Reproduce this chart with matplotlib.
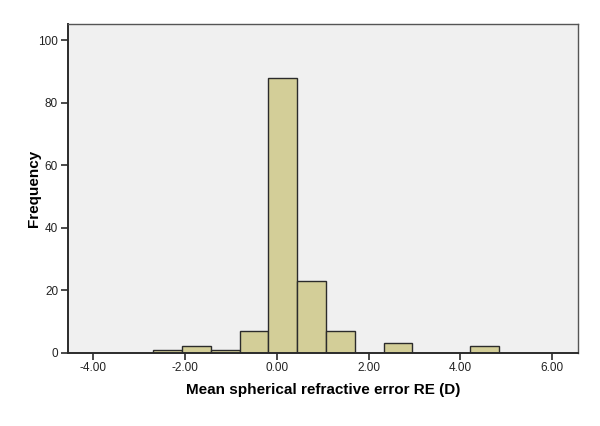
import numpy as np
import matplotlib.pyplot as plt

### Data ###

# Histogram bins (dioptres) and counts
bin_start = -2.69
bin_width = 0.627
counts = [1, 2, 1, 7, 88, 23, 7, 0, 3, 0, 0, 2]

x_ticks = [-4, -2, 0, 2, 4, 6]
x_tick_labels = ['-4.00', '-2.00', '0.00', '2.00', '4.00', '6.00']
y_ticks = [0, 20, 40, 60, 80, 100]

edges = bin_start + bin_width * np.arange(len(counts) + 1)

### Plot ###

plt.rcParams['font.family'] = ['Liberation Sans', 'DejaVu Sans']

fig = plt.figure(figsize=(6, 4.26), dpi=100)
ax = fig.add_axes([0.113, 0.172, 0.851, 0.772])
ax.set_facecolor('#F0F0F0')

ax.hist(edges[:-1], bins=edges, weights=counts,
        color='#D3CE98', edgecolor='#2b2b2b', linewidth=1.0)

ax.set_xlim(-4.55, 6.57)
ax.set_ylim(0, 105.3)

ax.set_xticks(x_ticks)
ax.set_xticklabels(x_tick_labels)
ax.set_yticks(y_ticks)
ax.tick_params(axis='both', direction='out', length=5, width=1.2,
               color='#2b2b2b', labelsize=8.5, labelcolor='#222222', pad=2)

for side in ['left', 'bottom', 'top', 'right']:
    ax.spines[side].set_color('#555555')
    ax.spines[side].set_linewidth(1.0)
ax.spines['left'].set_color('#2b2b2b')
ax.spines['bottom'].set_color('#2b2b2b')
ax.spines['left'].set_linewidth(1.4)
ax.spines['bottom'].set_linewidth(1.4)

ax.set_xlabel('Mean spherical refractive error RE (D)', fontsize=11,
              fontweight='bold', labelpad=6.5)
ax.set_ylabel('Frequency', fontsize=11, fontweight='bold', labelpad=-2)

fig.savefig('out.png', dpi=100)
